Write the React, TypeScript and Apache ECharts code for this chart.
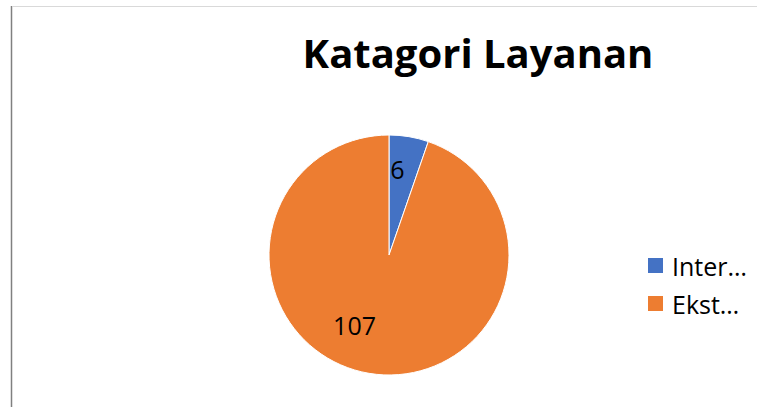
import React, { useEffect, useRef } from "react";
import * as echarts from "echarts";

const titleText = "Katagori Layanan";
const categories = ["Internal", "Eksternal"];
const legendLabels = ["Inter…", "Ekst…"];
const values = [6, 107];
const colors = ["#4472C4", "#ED7D31"];

export default function App() {
  const ref = useRef<HTMLDivElement>(null);
  useEffect(() => {
    if (!ref.current) return;
    const chart = echarts.init(ref.current, null, { renderer: "svg" });
    const font = "Open Sans, Noto Sans, sans-serif";
    chart.setOption({
      animation: false,
      backgroundColor: "#ffffff",
      title: {
        text: titleText,
        left: 473,
        top: 27,
        textAlign: "center",
        textStyle: { fontFamily: font, fontSize: 40, fontWeight: "bold", color: "#000" },
      },
      legend: {
        orient: "vertical",
        left: 646,
        top: 253,
        padding: 0,
        itemWidth: 17,
        itemHeight: 17,
        itemGap: 13,
        icon: "rect",
        data: categories,
        formatter: (name: string) => legendLabels[categories.indexOf(name)],
        textStyle: { fontFamily: font, fontSize: 25, color: "#000", padding: [0, 0, 0, 3] },
      },
      graphic: [
        { type: "line", shape: { x1: 11.5, y1: 6, x2: 11.5, y2: 407 }, style: { stroke: "#808080", lineWidth: 1.5 } },
        { type: "line", shape: { x1: 12, y1: 6.5, x2: 757, y2: 6.5 }, style: { stroke: "#d9d9d9", lineWidth: 1 } },
      ],
      series: [
        {
          type: "pie",
          center: [389, 255],
          radius: 120,
          startAngle: 90,
          clockwise: true,
          color: colors,
          itemStyle: { borderColor: "#fff", borderWidth: 1 },
          label: {
            show: true,
            position: "inside",
            formatter: "{c}",
            fontFamily: font,
            fontSize: 25,
            color: "#000",
          },
          labelLayout: (params: any) => {
            if (params.dataIndex === 0) return { dy: -24, dx: -2 };
            return { dx: -24, dy: 8 };
          },
          labelLine: { show: false },
          emphasis: { disabled: true },
          data: categories.map((c, i) => ({ name: c, value: values[i] })),
        },
      ],
    });
    return () => chart.dispose();
  }, []);
  return <div ref={ref} style={{ position: "fixed", left: 0, top: 0, width: 757, height: 407 }} />;
}
